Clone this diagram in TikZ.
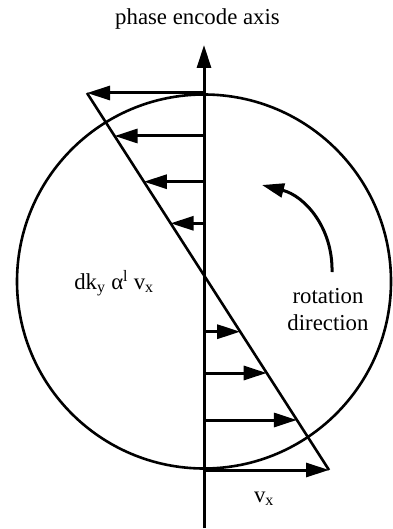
\documentclass[tikz,border=0pt]{standalone}
\usepackage{fontspec}
\setmainfont{Liberation Serif}
\usetikzlibrary{arrows.meta}
\begin{document}
\begin{tikzpicture}[x=1pt,y=-1pt,
  lbl/.style={font=\fontsize{22.8pt}{27pt}\selectfont, inner sep=0pt, anchor=base},
  vec/.style={line width=3pt, -{Triangle[length=23pt,width=14pt]}},
  thin/.style={line width=2.6pt}]
\useasboundingbox (0,0) rectangle (392,529);
% axis
\coordinate (axb) at (204,528);
\coordinate (axt) at (204,45);
\draw[vec] (axb) -- (axt);
% circle
\node[draw, thin, circle, minimum size=374pt, inner sep=0pt] (c) at (204,281.5) {};
% diagonal
\coordinate (dt) at (87,93);
\coordinate (db) at (329,470);
\draw[thin, line join=miter] (dt) -- (db);
% left arrows
\foreach \y/\x [count=\i] in {93/87, 136/114.6, 181.7/143.9, 223.3/170.6}{
  \coordinate (ls\i) at (204,\y);
  \coordinate (le\i) at (\x,\y);
  \draw[vec] (ls\i) -- (le\i);
}
% right arrows
\foreach \y/\x [count=\i] in {331.7/240.2, 373/266.7, 420/296.9, 470/329}{
  \coordinate (rs\i) at (204,\y);
  \coordinate (re\i) at (\x,\y);
  \draw[vec] (rs\i) -- (re\i);
}
% rotation arrow
\coordinate (rt) at (332,272);
\coordinate (rh) at (262,185);
\draw[line width=3pt, -{Triangle[length=22pt,width=14pt]}] (rt) .. controls (333,228) and (305,196) .. (rh);
% labels
\node[lbl] (title) at (197.5,25) {phase encode axis};
\node[lbl] (rot) at (328,303) {rotation};
\node[lbl] (dir) at (328,330) {direction};
\node[lbl] (eq) at (114,289) {dk\textsubscript{y} α\textsuperscript{l} v\textsubscript{x}};
\node[lbl] (vx) at (264,502) {v\textsubscript{x}};
\end{tikzpicture}
\end{document}
